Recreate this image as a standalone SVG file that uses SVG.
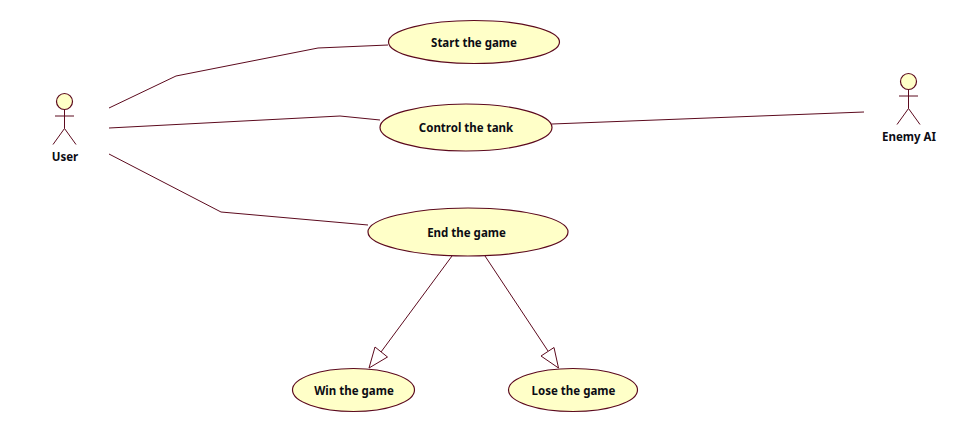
<svg xmlns="http://www.w3.org/2000/svg" width="973" height="432" viewBox="0 0 973 432">
<style>
.s{fill:none;stroke:#5c0a1e;stroke-width:1}
.n{fill:#ffffc8;stroke:#5c0a1e;stroke-width:1.2}
.t{font-family:"Noto Sans","DejaVu Sans",sans-serif;font-weight:bold;font-size:11.5px;fill:#0c0c14;text-anchor:middle}
</style>
<defs>
<g id="actor">
<circle class="n" cx="0" cy="0" r="8"/>
<path class="s" d="M0 8V27M-9.500 14.500H9.500M-11.500 43L0 27L11.500 43"/>
</g>
</defs>
<rect width="973" height="432" fill="#fff"/>
<g id="connectors">
<path class="s" d="M109 108L176 76L318 48L388 45"/>
<path class="s" d="M109 128L340 116L380 120"/>
<path class="s" d="M109 154L221 212L368 225"/>
<path class="s" d="M552 124L864 112"/>
<path class="s" d="M452 256L381 352"/>
<path class="s" d="M369 368L375 347L387.500 357Z"/>
<path class="s" d="M485 256L548 351"/>
<path class="s" d="M558.500 368L554 347.500L541 356Z"/>
</g>
<g id="user"><use href="#actor" x="64.500" y="101.500"/><text class="t" x="65" y="161">User</text></g>
<g id="enemy-ai"><use href="#actor" x="908.500" y="81.500"/><text class="t" x="909" y="141">Enemy AI</text></g>
<g id="start"><ellipse class="n" cx="474" cy="42" rx="85.500" ry="21.500"/><text class="t" x="474" y="47">Start the game</text></g>
<g id="control"><ellipse class="n" cx="466" cy="127.500" rx="86" ry="23.500"/><text class="t" x="466" y="132">Control the tank</text></g>
<g id="end"><ellipse class="n" cx="468" cy="232" rx="100" ry="24"/><text class="t" x="466.500" y="237">End the game</text></g>
<g id="win"><ellipse class="n" cx="353.500" cy="390" rx="61" ry="21.500"/><text class="t" x="354" y="395">Win the game</text></g>
<g id="lose"><ellipse class="n" cx="573" cy="390" rx="64.500" ry="21.500"/><text class="t" x="573.500" y="395">Lose the game</text></g>
</svg>
